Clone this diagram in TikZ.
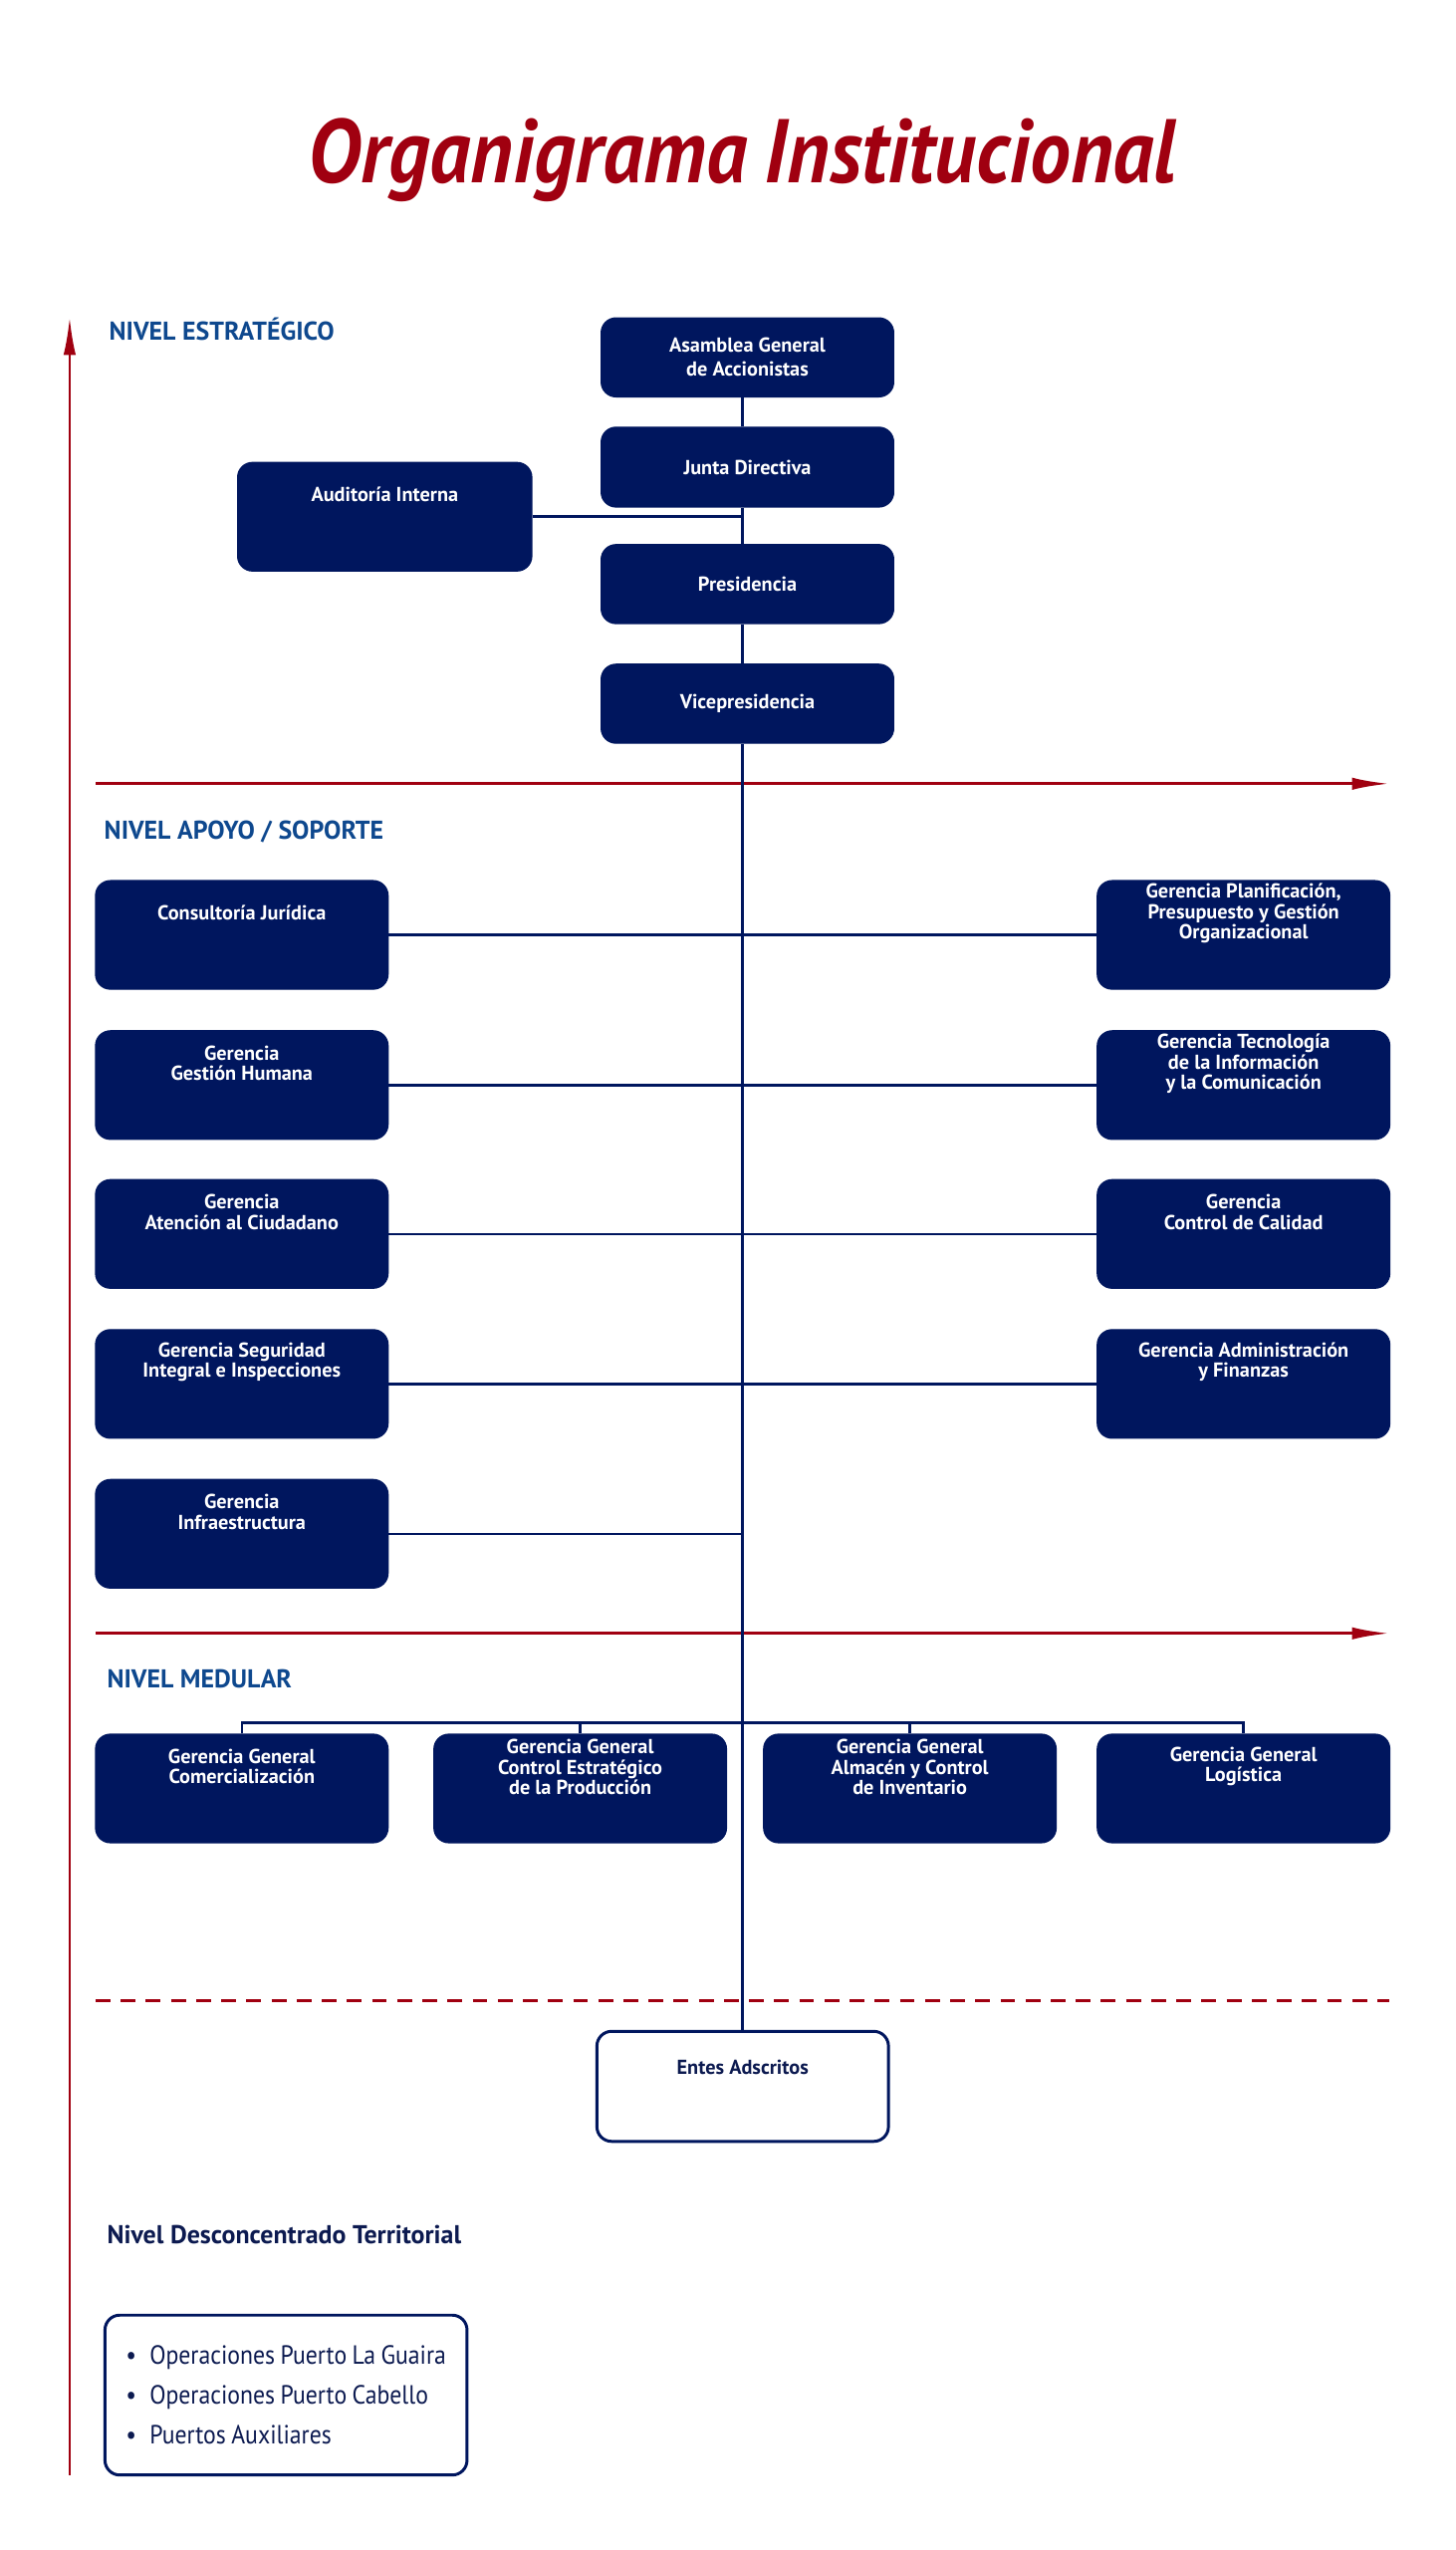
\documentclass[tikz,border=0pt]{standalone}
\usepackage{fontspec}
\setmainfont{PT Sans}
\newfontfamily\narrowsans{PT Sans}[FakeStretch=0.9, WordSpace=0.85]
\usetikzlibrary{positioning, arrows.meta}

\definecolor{navy}{RGB}{0,22,94}
\definecolor{darkred}{RGB}{160,0,16}
\definecolor{levelblue}{RGB}{14,72,142}
\definecolor{deepnavy}{RGB}{12,26,80}

\tikzset{
  unitbox/.style={fill=navy, draw=navy, line width=0.8pt, rounded corners=9pt, minimum width=178pt, minimum height=48pt, inner sep=0pt},
  tallbox/.style={unitbox, minimum height=66pt},
  openbox/.style={tallbox, fill=white, line width=1.8pt},
  boxtext/.style={text=white, font=\bfseries\fontsize{12.3}{12.4}\selectfont, align=center, inner sep=0pt},
  link/.style={draw=navy, line width=1.5pt},
  level/.style={text=levelblue, font=\bfseries\fontsize{15.7}{18}\selectfont, anchor=base west, inner sep=0pt},
  redline/.style={draw=darkred, line width=2pt},
  redarrow/.style={redline, -{Latex[length=23pt,width=7.5pt]}},
}

\begin{document}
\begin{tikzpicture}[x=1pt,y=1pt,yscale=-1,xscale=1]
  \useasboundingbox (0,0) rectangle (886,1552);

  % Title
  \node [anchor=base, inner sep=0pt, text=darkred, font=\narrowsans\bfseries\itshape\fontsize{55}{60}\selectfont] (title) at (452,111.2) {Organigrama Institucional};

  % Level headings
  \node [level] (lvest) at (66.3,207.2) {NIVEL ESTRATÉGICO};
  \node [level] (lvapo) at (63.3,511) {NIVEL APOYO / SOPORTE};
  \node [level] (lvmed) at (65,1027.5) {NIVEL MEDULAR};
  \node [level, text=deepnavy] (lvdes) at (65,1365.4) {Nivel Desconcentrado Territorial};

  % Red separators
  \coordinate (axbot) at (42.4,1506.3);
  \coordinate (axtop) at (42.4,193);
  \draw [redarrow, line width=1.7pt] (axbot) -- (axtop);
  \coordinate (sepa) at (58.2,477);
  \coordinate (sepb) at (58.2,994.1);
  \coordinate (sepc) at (58.2,1217.5);
  \draw [redarrow] (sepa) -- ++(787.8,0);
  \draw [redarrow] (sepb) -- ++(787.8,0);
  \draw [redline, line width=1.8pt, dash pattern={on 9pt off 6.3pt}] (sepc) -- ++(787.8,0);

  % Strategic level
  \coordinate (spine) at (452,0);
  \node [unitbox, boxtext, font=\bfseries\fontsize{12.3}{14.7}\selectfont] (asam) at (455,217.5) {Asamblea General\\de Accionistas};
  \node [unitbox, boxtext, minimum height=48.5pt] (junta) at (455,284.3) {Junta Directiva};
  \node [unitbox, boxtext] (pres) at (455,355.5) {Presidencia};
  \node [unitbox, boxtext] (vice) at (455,428.3) {Vicepresidencia};
  \node [tallbox, minimum width=179pt] (aud) at (234.2,314.5) {};
  \node [boxtext] (audt) at ([yshift=20pt]aud.north) {Auditoría Interna};

  % Support level, left column
  \node [tallbox] (cj) at (147.2,569) {};
  \node [boxtext] (cjt) at ([yshift=20pt]cj.north) {Consultoría Jurídica};
  \node [tallbox] (gh) at (147.2,660.4) {};
  \node [boxtext] (ght) at ([yshift=20pt]gh.north) {Gerencia\\Gestión Humana};
  \node [tallbox] (ac) at (147.2,751) {};
  \node [boxtext] (act) at ([yshift=20pt]ac.north) {Gerencia\\Atención al Ciudadano};
  \node [tallbox] (si) at (147.2,842.3) {};
  \node [boxtext] (sit) at ([yshift=20pt]si.north) {Gerencia Seguridad\\Integral e Inspecciones};
  \node [tallbox] (inf) at (147.2,933.5) {};
  \node [boxtext] (inft) at ([yshift=20pt]inf.north) {Gerencia\\Infraestructura};

  % Support level, right column
  \node [tallbox] (pl) at (757,569) {};
  \node [boxtext] (plt) at ([yshift=20.5pt]pl.north) {Gerencia Planificación,\\Presupuesto y Gestión\\Organizacional};
  \node [tallbox] (ti) at (757,660.4) {};
  \node [boxtext] (tit) at ([yshift=20.5pt]ti.north) {Gerencia Tecnología\\de la Información\\y la Comunicación};
  \node [tallbox] (cc) at (757,751) {};
  \node [boxtext] (cct) at ([yshift=20pt]cc.north) {Gerencia\\Control de Calidad};
  \node [tallbox] (af) at (757,842.3) {};
  \node [boxtext] (aft) at ([yshift=20pt]af.north) {Gerencia Administración\\y Finanzas};

  % Core level
  \node [tallbox] (gcom) at (147.2,1088.5) {};
  \node [boxtext] (gcomt) at ([yshift=20pt]gcom.north) {Gerencia General\\Comercialización};
  \node [tallbox] (gcep) at (353.2,1088.5) {};
  \node [boxtext] (gcept) at ([yshift=20.5pt]gcep.north) {Gerencia General\\Control Estratégico\\de la Producción};
  \node [tallbox] (gaci) at (553.9,1088.5) {};
  \node [boxtext] (gacit) at ([yshift=20.5pt]gaci.north) {Gerencia General\\Almacén y Control\\de Inventario};
  \node [tallbox] (glog) at (757,1088.5) {};
  \node [boxtext] (glogt) at ([yshift=20pt]glog.north) {Gerencia General\\Logística};
  \coordinate (bus) at (452,1048.5);

  % Attached entities
  \node [openbox, minimum width=177.5pt, minimum height=67pt] (entes) at (452.1,1269.8) {};
  \node [boxtext, text=deepnavy] (entest) at ([yshift=23pt]entes.north) {Entes Adscritos};

  % Territorial list
  \node [openbox, minimum width=220.4pt, minimum height=97.3pt, align=left, text=deepnavy, font=\narrowsans\fontsize{16}{24.2}\selectfont] (terr) at (174.1,1457.7) {\textbullet\enspace Operaciones Puerto La Guaira\\\textbullet\enspace Operaciones Puerto Cabello\\\textbullet\enspace Puertos Auxiliares};

  % Connectors
  \draw [link] (asam.south -| spine) -- (junta.north -| spine);
  \draw [link] (junta.south -| spine) -- (pres.north -| spine);
  \draw [link] (pres.south -| spine) -- (vice.north -| spine);
  \draw [link] (vice.south -| spine) -- (entes.north -| spine);
  \draw [link, line width=2pt] (aud.east) -- (aud.east -| spine);
  \draw [link] (cj.east) -- (pl.west);
  \draw [link] (gh.east) -- (ti.west);
  \draw [link] (ac.east) -- (cc.west);
  \draw [link] (si.east) -- (af.west);
  \draw [link] (inf.east) -- (inf.east -| spine);
  \draw [link] (gcom.north) -- (gcom.north |- bus) -- (glog.north |- bus) -- (glog.north);
  \draw [link] (gcep.north) -- (gcep.north |- bus);
  \draw [link] (gaci.north) -- (gaci.north |- bus);

\end{tikzpicture}
\end{document}
